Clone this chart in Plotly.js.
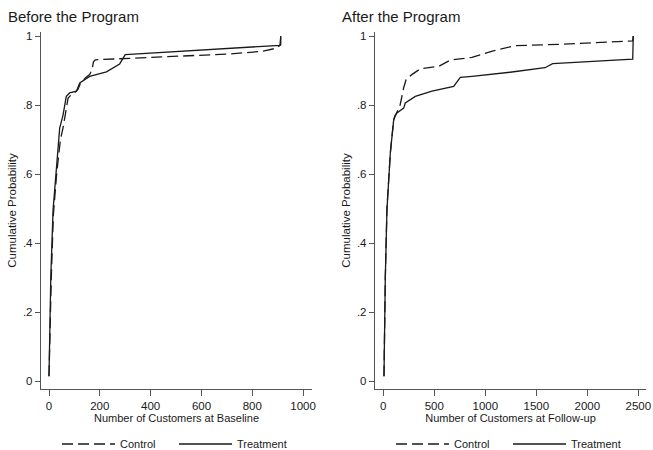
<!DOCTYPE html>
<html>
<head>
<meta charset="utf-8">
<script src="https://cdn.plot.ly/plotly-3.0.1.min.js"></script>
<style>html,body{margin:0;padding:0;background:#fff;}#chart{width:653px;height:450px;}</style>
</head>
<body>
<div id="chart"></div>
<script>
// ---- Data (cumulative distribution curves) ----
const beforeControlX = [0, 4, 9, 17, 30, 45, 55, 66, 75, 88, 100, 114, 125, 145, 160, 170, 175, 182, 283, 500, 713, 843, 896, 912, 912];
const beforeControlY = [0.014, 0.15, 0.30, 0.48, 0.60, 0.70, 0.733, 0.78, 0.82, 0.83, 0.835, 0.845, 0.865, 0.88, 0.888, 0.905, 0.925, 0.931, 0.934, 0.94, 0.948, 0.956, 0.965, 0.975, 1.0];

const beforeTreatX = [0, 3, 7, 16, 29, 38, 42, 55, 66, 68, 81, 108, 121, 160, 226, 278, 300, 350, 909, 912];
const beforeTreatY = [0.014, 0.15, 0.30, 0.496, 0.61, 0.70, 0.733, 0.77, 0.81, 0.825, 0.835, 0.84, 0.864, 0.883, 0.896, 0.919, 0.946, 0.948, 0.973, 1.0];

const afterControlX = [7, 12, 20, 36, 69, 102, 134, 150, 165, 200, 225, 280, 363, 543, 657, 870, 1078, 1291, 1732, 2445, 2450];
const afterControlY = [0.014, 0.15, 0.30, 0.50, 0.66, 0.757, 0.777, 0.79, 0.80, 0.85, 0.875, 0.888, 0.905, 0.912, 0.93, 0.938, 0.957, 0.972, 0.976, 0.986, 1.0];

const afterTreatX = [7, 12, 20, 36, 69, 102, 115, 134, 200, 216, 314, 477, 690, 755, 870, 1242, 1585, 1660, 2445, 2450];
const afterTreatY = [0.014, 0.15, 0.30, 0.496, 0.66, 0.757, 0.77, 0.777, 0.791, 0.806, 0.825, 0.84, 0.854, 0.88, 0.883, 0.895, 0.908, 0.92, 0.933, 1.0];

const yTickVals = [0, 0.2, 0.4, 0.6, 0.8, 1];
const yTickText = ['0', '.2', '.4', '.6', '.8', '1'];
const xTickBefore = [0, 200, 400, 600, 800, 1000];
const xTickAfter = [0, 500, 1000, 1500, 2000, 2500];

const seriesNames = ['Control', 'Treatment'];
const panelTitles = ['Before the Program', 'After the Program'];
const xTitles = ['Number of Customers at Baseline', 'Number of Customers at Follow-up'];
const yTitle = 'Cumulative Probability';

// ---- Styling ----
const W = 653, H = 450;
const FONT = '"Liberation Sans", Arial, Helvetica, sans-serif';
const ink = '#1a1a1a';
const axisCol = '#555555';
const dashStyle = '11px,5px';

const traces = [
  {x: beforeControlX, y: beforeControlY, xaxis: 'x', yaxis: 'y', mode: 'lines', name: seriesNames[0], legend: 'legend',
   line: {color: ink, width: 1.3, dash: dashStyle}, hoverinfo: 'skip'},
  {x: beforeTreatX, y: beforeTreatY, xaxis: 'x', yaxis: 'y', mode: 'lines', name: seriesNames[1], legend: 'legend',
   line: {color: ink, width: 1.3}, hoverinfo: 'skip'},
  {x: afterControlX, y: afterControlY, xaxis: 'x2', yaxis: 'y2', mode: 'lines', name: seriesNames[0], legend: 'legend2',
   line: {color: ink, width: 1.3, dash: dashStyle}, hoverinfo: 'skip'},
  {x: afterTreatX, y: afterTreatY, xaxis: 'x2', yaxis: 'y2', mode: 'lines', name: seriesNames[1], legend: 'legend2',
   line: {color: ink, width: 1.3}, hoverinfo: 'skip'}
];

const tickFont = {family: FONT, size: 11.5, color: ink};
function xAxis(dom, rng, ticks, title, anchor) {
  return {domain: dom, range: rng, anchor: anchor, tickvals: ticks, ticktext: ticks.map(String),
    showline: true, linecolor: axisCol, linewidth: 1.2, ticks: 'outside', ticklen: 6, tickwidth: 1, tickcolor: axisCol,
    showgrid: false, zeroline: false, tickfont: tickFont, automargin: false, fixedrange: true,
    title: {text: title, font: {family: FONT, size: 11, color: ink}, standoff: 3}};
}
function yAxis(anchor) {
  return {domain: [61 / H, 418 / H], range: [-0.0232, 1.0116], anchor: anchor, tickvals: yTickVals, ticktext: yTickText,
    showline: true, linecolor: axisCol, linewidth: 1.2, ticks: 'outside', ticklen: 5, tickwidth: 1, tickcolor: axisCol,
    showgrid: false, zeroline: false, tickfont: tickFont, automargin: false, fixedrange: true,
    title: {text: yTitle, font: {family: FONT, size: 11.5, color: ink}, standoff: 3}};
}
const legendBase = {orientation: 'h', yanchor: 'middle', y: 6 / H, xanchor: 'left',
  font: {family: FONT, size: 11, color: ink}, bgcolor: 'rgba(0,0,0,0)', itemwidth: 53,
  entrywidth: 49, entrywidthmode: 'pixels'};

const layout = {
  width: W, height: H,
  margin: {l: 0, r: 0, t: 0, b: 0, pad: 0, autoexpand: false},
  paper_bgcolor: '#ffffff', plot_bgcolor: '#ffffff',
  showlegend: true,
  xaxis: xAxis([41 / W, 312 / W], [-31.5, 1035], xTickBefore, xTitles[0], 'y'),
  yaxis: yAxis('x'),
  xaxis2: xAxis([375 / W, 646 / W], [-81, 2575], xTickAfter, xTitles[1], 'y2'),
  yaxis2: yAxis('x2'),
  legend: Object.assign({}, legendBase, {x: 57 / W}),
  legend2: Object.assign({}, legendBase, {x: 391 / W}),
  annotations: [
    {text: panelTitles[0], xref: 'paper', yref: 'paper', x: 6 / W, y: 1 - 16 / H, xanchor: 'left', yanchor: 'middle',
     showarrow: false, font: {family: FONT, size: 15, color: ink}},
    {text: panelTitles[1], xref: 'paper', yref: 'paper', x: 340 / W, y: 1 - 16 / H, xanchor: 'left', yanchor: 'middle',
     showarrow: false, font: {family: FONT, size: 15, color: ink}}
  ]
};

Plotly.newPlot('chart', traces, layout, {staticPlot: true, displayModeBar: false});
</script>
</body>
</html>
